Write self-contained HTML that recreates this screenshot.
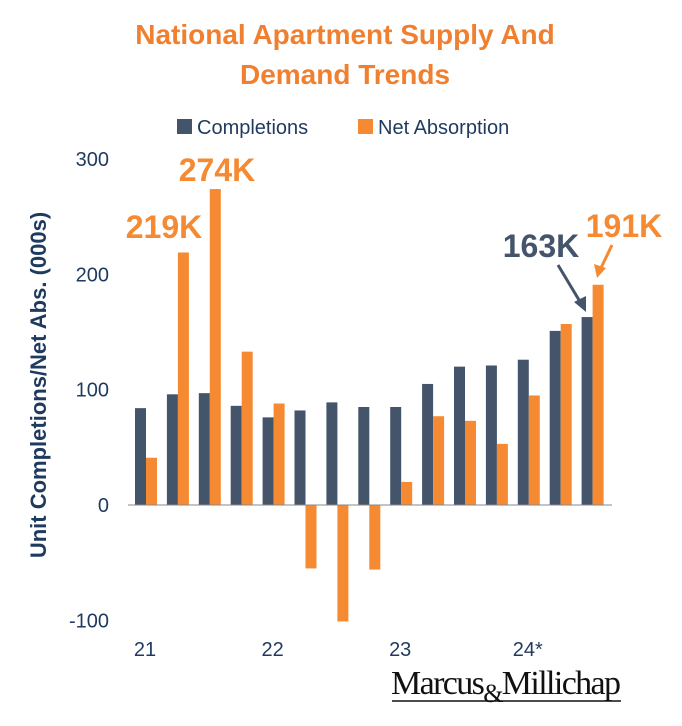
<!DOCTYPE html>
<html><head><meta charset="utf-8"><style>
body{margin:0;background:#fff;width:682px;height:721px;overflow:hidden}
.t{font-family:"Liberation Sans",sans-serif}
.n{font-family:"Liberation Sans Narrow","Liberation Sans",sans-serif}
.s{font-family:"Liberation Serif",serif}
</style></head><body>
<svg width="682" height="721">
<text class="t" x="345" y="44" text-anchor="middle" font-size="28" font-weight="bold" fill="#f0802f">National Apartment Supply And</text>
<text class="t" x="345" y="84" text-anchor="middle" font-size="28" font-weight="bold" fill="#f0802f">Demand Trends</text>
<rect x="177" y="119" width="15" height="15" fill="#44546a"/>
<text class="n" x="197" y="134" font-size="20" fill="#1f3a5f">Completions</text>
<rect x="358" y="119" width="15" height="15" fill="#f58a33"/>
<text class="n" x="378" y="134" font-size="20" fill="#1f3a5f">Net Absorption</text>
<text class="t" transform="translate(46,385) rotate(-90)" text-anchor="middle" font-size="22" font-weight="bold" fill="#1f3a5f">Unit Completions/Net Abs. (000s)</text>
<g id="yt"></g><g id="bars"></g>
<line x1="128" x2="612" y1="505" y2="505" stroke="#888" stroke-width="1"/>
<g id="xt"></g>
<text class="n" x="164" y="238" text-anchor="middle" font-size="32" font-weight="bold" fill="#f58a33">219K</text>
<text class="n" x="217" y="181" text-anchor="middle" font-size="32" font-weight="bold" fill="#f58a33">274K</text>
<text class="n" x="541" y="257" text-anchor="middle" font-size="32" font-weight="bold" fill="#44546a">163K</text>
<text class="n" x="624" y="237" text-anchor="middle" font-size="32" font-weight="bold" fill="#f58a33">191K</text>
<line x1="558" y1="265" x2="582" y2="305" stroke="#44546a" stroke-width="3"/>
<polygon points="586,312 574,302 586,296" fill="#44546a"/>
<line x1="612" y1="245" x2="600" y2="270" stroke="#f58a33" stroke-width="3"/>
<polygon points="597,278 594,264 606,268" fill="#f58a33"/>
<text class="s" x="391" y="694" font-size="34" fill="#111" textLength="230">Marcus<tspan font-size="26" dy="8">&amp;</tspan><tspan dy="-8">Millichap</tspan></text>
<line x1="392" x2="621" y1="701" y2="701" stroke="#111" stroke-width="1.5"/>
</svg>
<script>
const completions=[84,96,97,86,76,82,89,85,85,105,120,121,126,151,163];
const absorption=[41,219,274,133,88,-55,-101,-56,20,77,73,53,95,157,191];
const yTicks=[300,200,100,0,-100];
const xLabels=["21","22","23","24*"];
const xLabelIdx=[0,4,8,12];
const NS="http://www.w3.org/2000/svg";
const y=v=>505-v*1.153;
const gx=i=>135+i*31.9;
const bars=document.getElementById('bars');
function rect(x,v,c,name){const r=document.createElementNS(NS,'rect');
r.setAttribute('x',x);r.setAttribute('width',11);
r.setAttribute('y',Math.min(y(v),y(0)));r.setAttribute('height',Math.abs(y(v)-y(0)));r.setAttribute('fill',c);


bars.appendChild(r);}
completions.forEach((v,i)=>rect(gx(i),v,'#44546a','bar-completions-'+i));
absorption.forEach((v,i)=>rect(gx(i)+11,v,'#f58a33','bar-absorption-'+i));
const yt=document.getElementById('yt');
yTicks.forEach(t=>{const e=document.createElementNS(NS,'text');e.setAttribute('x',109);e.setAttribute('y',y(t)+7);
e.setAttribute('class','n');
e.setAttribute('text-anchor','end');e.setAttribute('font-size','20');e.setAttribute('fill','#1f3a5f');e.textContent=t;


yt.appendChild(e);});
const xt=document.getElementById('xt');
xLabels.forEach((l,k)=>{const e=document.createElementNS(NS,'text');e.setAttribute('x',gx(xLabelIdx[k])+10);e.setAttribute('y',656);
e.setAttribute('class','n');
e.setAttribute('text-anchor','middle');e.setAttribute('font-size','20');e.setAttribute('fill','#1f3a5f');e.textContent=l;


xt.appendChild(e);});
</script>
</body></html>
